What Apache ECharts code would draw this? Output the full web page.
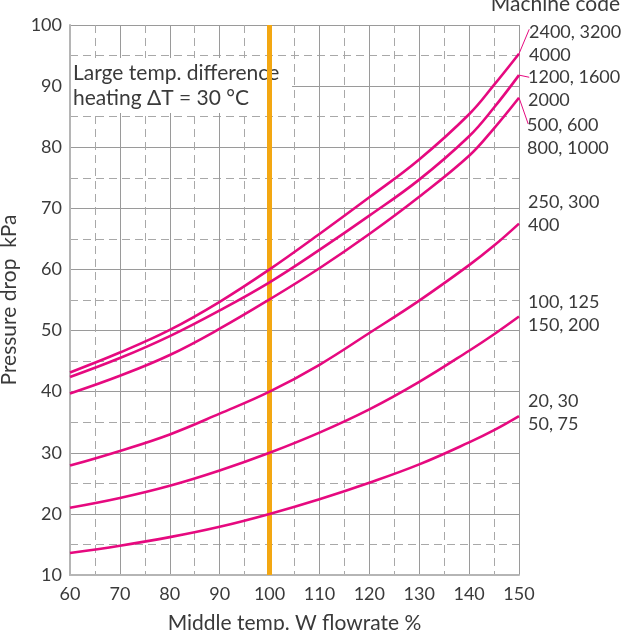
<!DOCTYPE html>
<html><head><meta charset="utf-8">
<script src="https://cdn.jsdelivr.net/npm/echarts@6/dist/echarts.min.js"></script>
<style>html,body{margin:0;padding:0;background:#fff}#c{width:625px;height:630px}</style>
</head><body><div id="c"></div>
<script>
// ---- data ----
const flowrate = [60, 70, 80, 90, 100, 110, 120, 130, 140, 145, 150];
const code2400 = [43.15, 46.4, 50.1, 54.7, 60.0, 65.8, 71.8, 78.0, 85.4, 90.2, 95.3];
const code1200 = [42.4, 45.5, 49.1, 53.3, 57.9, 63.2, 68.8, 74.7, 81.8, 86.5, 91.8];
const code500  = [39.7, 42.6, 46.0, 50.3, 55.1, 60.2, 65.8, 71.9, 78.6, 83.1, 88.1];
const code250  = [27.9, 30.3, 33.0, 36.4, 40.0, 44.4, 49.6, 54.9, 60.7, 63.9, 67.5];
const code100  = [21.0, 22.6, 24.6, 27.1, 30.0, 33.3, 37.1, 41.6, 46.7, 49.4, 52.3];
const code20   = [13.6, 14.8, 16.2, 17.9, 20.0, 22.4, 25.1, 28.1, 31.7, 33.7, 36.0];
const seriesValues = [code2400, code1200, code500, code250, code100, code20];
const codeLabels = [
  ['2400, 3200', '4000'],
  ['1200, 1600', '2000'],
  ['500, 600', '800, 1000'],
  ['250, 300', '400'],
  ['100, 125', '150, 200'],
  ['20, 30', '50, 75']
];
// leader-line targets (data units) for the first three curves
const leaderEnds = [[152.05, 99.3], [152.05, 91.45], [151.85, 83.8]];
const referenceFlow = 100;
const boxRange = { x: [60.2, 104.5], y: [85.6, 94.6] };
const boxText = 'Large temp. difference\nheating ΔT = 30 °C';
const xTicks = { min: 60, max: 150, interval: 10 };
const yTicks = { min: 10, max: 100, interval: 10 };

// ---- styles ----
const FONT = 'Lato, "Open Sans", sans-serif';
const TXT = '#3a3a3a';
const MAG = '#e6097f';
const labelOffsets = [[10, -10], [9, 14], [8, 39], [9, -10], [9, -3], [9, -3]];

const chart = echarts.init(document.getElementById('c'), null, { renderer: 'canvas' });

const lastX = flowrate[flowrate.length - 1];
const leaderData = leaderEnds.map((e, i) => {
  const v = seriesValues[i];
  return [lastX, v[v.length - 1], e[0], e[1]];
});

const lineSeries = seriesValues.map((vals, i) => ({
  type: 'line',
  data: flowrate.map((x, k) => [x, vals[k]]),
  smooth: 0.4,
  showSymbol: false,
  symbol: 'none',
  clip: false,
  z: 5,
  lineStyle: { color: MAG, width: 2.6 },
  itemStyle: { color: MAG },
  silent: true,
  endLabel: {
    show: true,
    distance: 0,
    offset: labelOffsets[i],
    formatter: () => codeLabels[i].join('\n'),
    color: TXT,
    fontFamily: FONT,
    fontSize: 18,
    lineHeight: 23,
    align: 'left',
    verticalAlign: 'middle'
  }
}));

const option = {
  animation: false,
  backgroundColor: '#fff',
  grid: { left: 70, right: 106, top: 25, bottom: 55, containLabel: false, outerBoundsMode: 'none' },
  xAxis: {
    type: 'value',
    min: xTicks.min, max: xTicks.max, interval: xTicks.interval,
    name: 'Middle temp. W flowrate %',
    nameLocation: 'middle',
    nameGap: 38,
    nameTextStyle: { color: TXT, fontFamily: FONT, fontSize: 21 },
    axisLine: { show: true, lineStyle: { color: '#b5b5b5', width: 2 } },
    axisTick: { show: false },
    axisLabel: { color: TXT, fontFamily: FONT, fontSize: 18, margin: 10 },
    splitLine: { show: true, lineStyle: { color: '#9a9a9a', width: 1 } },
    minorTick: { show: false, splitNumber: 2 },
    minorSplitLine: { show: true, lineStyle: { color: '#a8a8a8', width: 1, type: [8, 5] } }
  },
  yAxis: {
    type: 'value',
    min: yTicks.min, max: yTicks.max, interval: yTicks.interval,
    name: 'Pressure drop  kPa',
    nameLocation: 'middle',
    nameGap: 48,
    nameTextStyle: { color: TXT, fontFamily: FONT, fontSize: 21 },
    axisLine: { show: true, lineStyle: { color: '#b5b5b5', width: 2 } },
    axisTick: { show: false },
    axisLabel: { color: TXT, fontFamily: FONT, fontSize: 18, margin: 8 },
    splitLine: { show: true, lineStyle: { color: '#9a9a9a', width: 1 } },
    minorTick: { show: false, splitNumber: 2 },
    minorSplitLine: { show: true, lineStyle: { color: '#a8a8a8', width: 1, type: [8, 5] } }
  },
  graphic: [{
    type: 'text',
    right: 5,
    top: -6,
    style: { text: 'Machine code', fill: TXT, font: '21px ' + FONT }
  }],
  series: [
    {
      type: 'line', data: [], z: 2, silent: true,
      markLine: {
        silent: true, symbol: 'none', label: { show: false },
        lineStyle: { color: '#f3a712', width: 5, type: 'solid' },
        data: [{ xAxis: referenceFlow }]
      }
    },
    {
      type: 'line', data: [], z: 3, silent: true,
      markArea: {
        silent: true,
        itemStyle: { color: '#ffffff', opacity: 1 },
        label: {
          show: true, position: 'insideLeft', distance: 2,
          formatter: boxText,
          color: TXT, fontFamily: FONT, fontSize: 21, lineHeight: 25
        },
        data: [[{ coord: [boxRange.x[0], boxRange.y[1]] }, { coord: [boxRange.x[1], boxRange.y[0]] }]]
      }
    },
    {
      type: 'custom', z: 5, silent: true, clip: false,
      data: leaderData,
      encode: { x: [0, 2], y: [1, 3] },
      renderItem: function (params, api) {
        const p1 = api.coord([api.value(0), api.value(1)]);
        const p2 = api.coord([api.value(2), api.value(3)]);
        return {
          type: 'line',
          shape: { x1: p1[0], y1: p1[1], x2: p2[0], y2: p2[1] },
          style: { stroke: MAG, lineWidth: 1 }
        };
      }
    }
  ].concat(lineSeries)
};
chart.setOption(option);
</script>
</body></html>
